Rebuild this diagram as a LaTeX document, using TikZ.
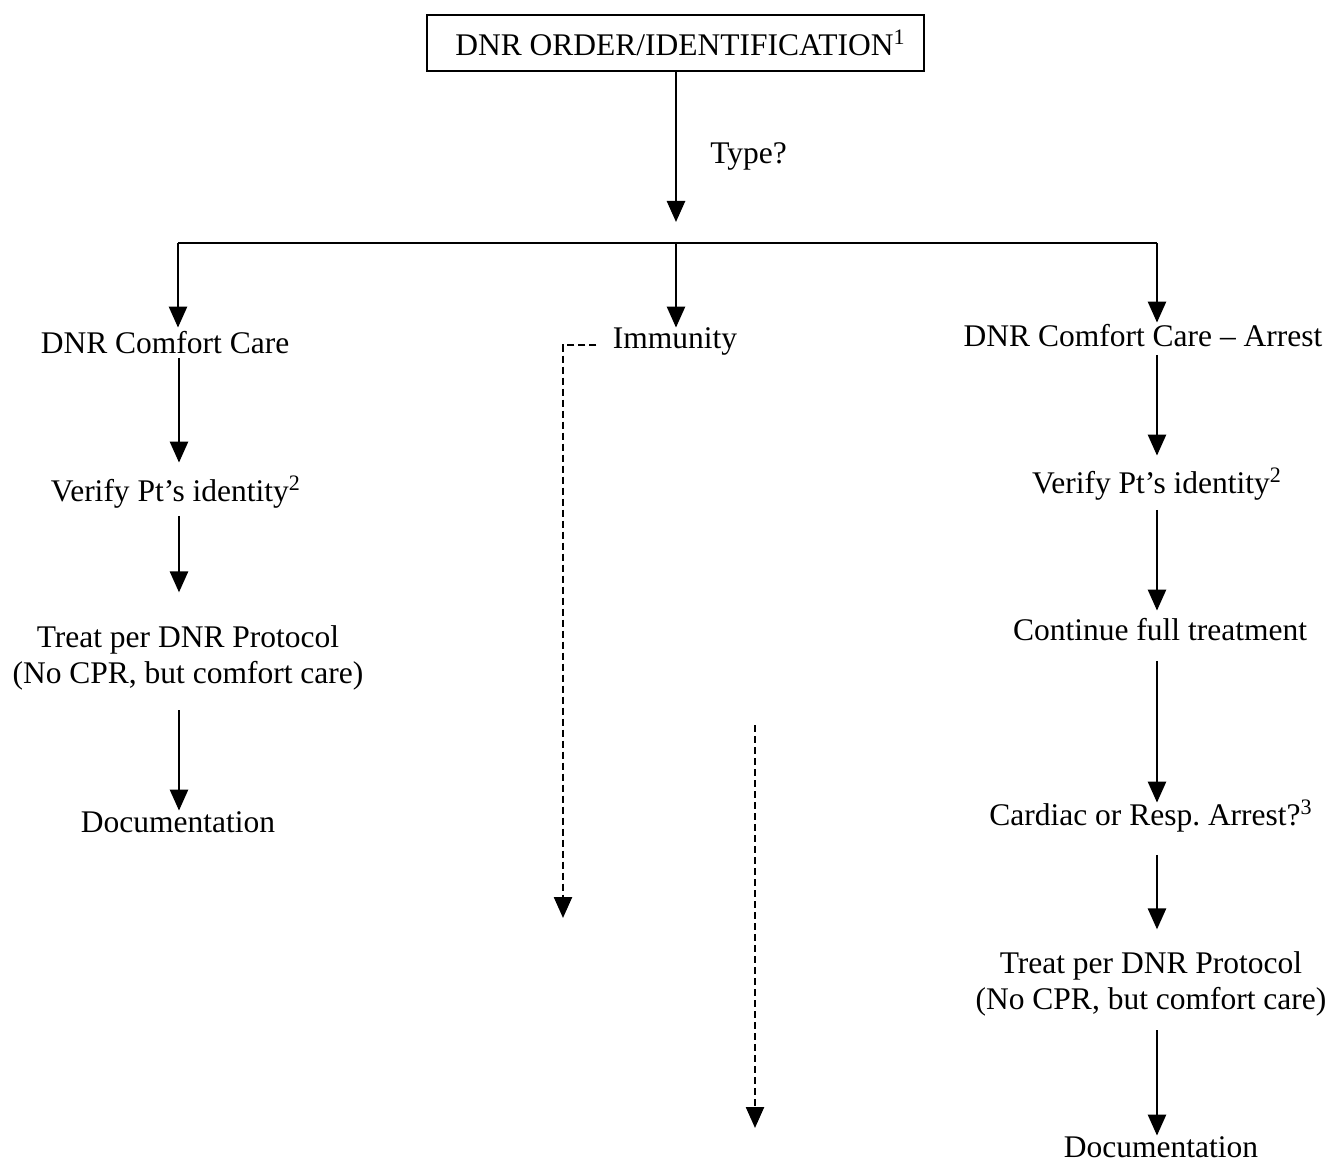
\documentclass[tikz,border=0pt]{standalone}
\usepackage{fontspec}
\setmainfont{Liberation Serif}
\usetikzlibrary{arrows.meta}
\frenchspacing
\begin{document}
\begin{tikzpicture}[x=0.5pt,y=-0.5pt,
  font=\fontsize{15.75}{18}\selectfont,
  lbl/.style={inner sep=0pt, anchor=base, text height=0.7em, text depth=0.22em},
  two/.style={inner sep=0pt, anchor=base},
  arr/.style={line width=1.3pt, -{Triangle[width=9pt,length=10.5pt]}},
  dsh/.style={line width=1.2pt, dash pattern=on 3.5pt off 2pt, -{Triangle[width=9pt,length=10.5pt]}},
  bus/.style={line width=1.2pt},
  topbox/.style={draw, line width=0.8pt, minimum width=248.5pt, minimum height=28pt, inner sep=0pt}]
\useasboundingbox (0,0) rectangle (1330,1161);

% top
\node[topbox] (top) at (675.5,43) {\hspace{5pt}DNR ORDER/IDENTIFICATION\textsuperscript{1}};
\node[inner sep=0pt, anchor=base west] (type) at (710,164) {Type?};

% columns and bus
\coordinate (colL) at (179,0);
\coordinate (colR) at (1157,0);
\coordinate (bl) at (178,243);
\coordinate (bm) at (676,243);
\coordinate (br) at (1157,243);

% left column
\node[lbl] (cc1) at (165,353) {DNR Comfort Care};
\node[lbl] (vp1) at (176,501) {Verify Pt’s identity\textsuperscript{2}};
\node[two] (tr1) at (188,647) {\begin{tabular}[t]{@{}c@{}}Treat per DNR Protocol\\(No CPR, but comfort care)\end{tabular}};
\node[lbl] (doc1) at (178,832) {Documentation};

% middle
\node[lbl] (imm) at (675,349) {Immunity};
\coordinate (dend) at (563,918);
\coordinate (e0) at (755,725);
\coordinate (e1) at (755,1128);

% right column
\node[lbl] (arr) at (1143,346) {DNR Comfort Care -- Arrest};
\node[lbl] (vp2) at (1157,493) {Verify Pt’s identity\textsuperscript{2}};
\node[lbl] (cont) at (1160,640) {Continue full treatment};
\node[lbl] (card) at (1151,825) {Cardiac or Resp.\ Arrest?\textsuperscript{3}};
\node[two] (tr2) at (1151,973) {\begin{tabular}[t]{@{}c@{}}Treat per DNR Protocol\\(No CPR, but comfort care)\end{tabular}};
\node[lbl] (doc2) at (1161,1157) {Documentation};

% connectors
\draw[arr] (top.south -| bm) -- ([yshift=10.5pt]bm);
\draw[bus] (bl) -- (br);
\draw[arr] (bl) -- ([yshift=5.5pt]cc1.north -| bl);
\draw[arr] (bm) -- ([yshift=3.5pt]imm.north -| bm);
\draw[arr] (br) -- ([yshift=4.5pt]arr.north -| br);

\draw[arr] (cc1.south -| colL) -- ([yshift=12pt]vp1.north -| colL);
\draw[arr] ([yshift=-5pt]vp1.south -| colL) -- ([yshift=14.5pt]tr1.north -| colL);
\draw[arr] ([yshift=-8pt]tr1.south -| colL) -- ([yshift=3.5pt]doc1.north -| colL);

\draw[dsh] ([xshift=-8pt,yshift=-0.5pt]imm.west) -| (dend);
\draw[dsh] (e0) -- (e1);

\draw[arr] ([yshift=-2pt]arr.south -| colR) -- ([yshift=11.5pt]vp2.north -| colR);
\draw[arr] ([yshift=-6pt]vp2.south -| colR) -- ([yshift=7.5pt]cont.north -| colR);
\draw[arr] ([yshift=-8pt]cont.south -| colR) -- ([yshift=4pt]card.north -| colR);
\draw[arr] ([yshift=-12.5pt]card.south -| colR) -- ([yshift=9pt]tr2.north -| colR);
\draw[arr] ([yshift=-5pt]tr2.south -| colR) -- ([yshift=3.5pt]doc2.north -| colR);
\end{tikzpicture}
\end{document}
